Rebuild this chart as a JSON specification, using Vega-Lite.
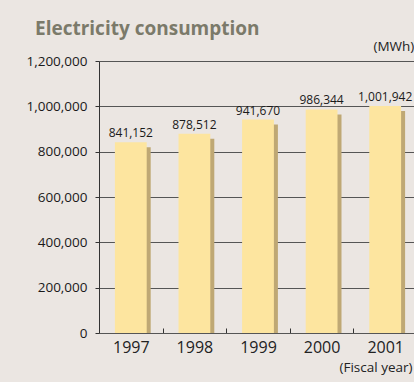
{
  "$schema": "https://vega.github.io/schema/vega-lite/v6.json",
  "width": 318,
  "height": 272,
  "autosize": {"type": "none"},
  "padding": {"left": 99, "top": 61, "right": 0, "bottom": 49},
  "background": "#ebe6e2",
  "config": {"view": {"stroke": null}},
  "title": {
    "text": "Electricity consumption",
    "anchor": "start",
    "frame": "group",
    "dx": -64,
    "dy": 18,
    "offset": 3,
    "baseline": "alphabetic",
    "font": "Open Sans",
    "fontSize": 19,
    "fontWeight": "bold",
    "color": "#7b7a6a"
  },
  "data": {
    "values": [
      {"year": "1997", "mwh": 841152},
      {"year": "1998", "mwh": 878512},
      {"year": "1999", "mwh": 941670},
      {"year": "2000", "mwh": 986344},
      {"year": "2001", "mwh": 1001942}
    ]
  },
  "encoding": {
    "x": {
      "field": "year",
      "type": "ordinal",
      "scale": {"paddingInner": 0, "paddingOuter": 0},
      "axis": {
        "zindex": 1,
        "labelAngle": 0,
        "labelFont": "Open Sans",
        "labelFontSize": 16,
        "labelColor": "#222222",
        "labelPadding": 11,
        "tickSize": -5,
        "tickBand": "extent",
        "tickColor": "#333333",
        "domainColor": "#555555",
        "title": "(Fiscal year)",
        "titleX": 240,
        "titleY": 38,
        "titleAlign": "left",
        "titleBaseline": "alphabetic",
        "titleFont": "Open Sans",
        "titleFontSize": 13.5,
        "titleFontWeight": "normal",
        "titleColor": "#222222"
      }
    },
    "y": {
      "field": "mwh",
      "type": "quantitative",
      "scale": {"domain": [0, 1200000], "nice": false},
      "axis": {
        "values": [0, 200000, 400000, 600000, 800000, 1000000, 1200000],
        "labelExpr": "format(datum.value, ',')",
        "grid": true,
        "gridColor": "#555555",
        "gridWidth": 1,
        "domainColor": "#333333",
        "tickColor": "#333333",
        "tickSize": 4,
        "labelPadding": 8,
        "labelFont": "Open Sans",
        "labelFontSize": 13.5,
        "labelColor": "#1a1a1a",
        "title": "(MWh)",
        "titleAngle": 0,
        "titleX": 274,
        "titleY": -11,
        "titleAlign": "left",
        "titleBaseline": "alphabetic",
        "titleFont": "Open Sans",
        "titleFontSize": 13.5,
        "titleFontWeight": "normal",
        "titleColor": "#222222"
      }
    }
  },
  "layer": [
    {"mark": {"type": "bar", "color": "#bfa874", "width": {"band": 0.5}, "xOffset": 4, "yOffset": 5, "clip": true}},
    {"mark": {"type": "bar", "color": "#fde59f", "width": {"band": 0.5}}},
    {
      "mark": {"type": "text", "dy": -5, "baseline": "alphabetic", "font": "Open Sans", "fontSize": 12, "color": "#1a1a1a"},
      "encoding": {"text": {"field": "mwh", "type": "quantitative", "format": ","}}
    }
  ]
}
